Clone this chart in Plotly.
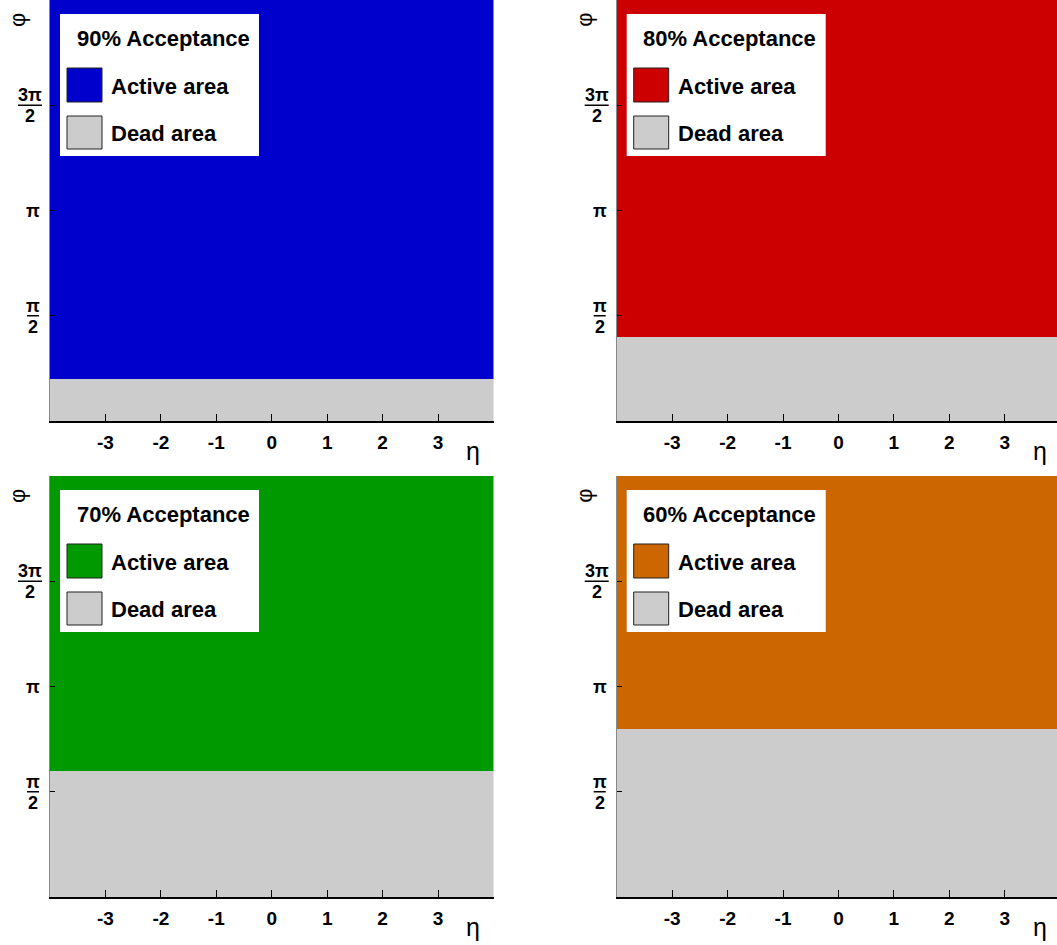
import math
import plotly.graph_objects as go

# Acceptance scenarios: fraction of the phi range that is instrumented
acceptances = [0.90, 0.80, 0.70, 0.60]
titles = ["90% Acceptance", "80% Acceptance", "70% Acceptance", "60% Acceptance"]
active_colors = ["#0000CC", "#CC0000", "#009900", "#CC6600"]
dead_color = "#CCCCCC"

eta_ticks = [-3, -2, -1, 0, 1, 2, 3]
eta_labels = ["-3", "-2", "-1", "0", "1", "2", "3"]
phi_ticks = [math.pi / 2, math.pi, 3 * math.pi / 2]
phi_numerators = ["π", "π", "3π"]
phi_denominators = ["2", "", "2"]
phi_max = 2 * math.pi
eta_min, eta_max = -4.0, 4.0

W, H = 1057, 945
FONT = "Liberation Sans, Arial, sans-serif"

# pixel layout of the four panels: (left, right, top, bottom)
left_x0, left_x1 = 50.0, 493.5
right_x0 = 616.7
top_y0, top_y1 = 0.0, 421.0
bot_y0, bot_y1 = 476.0, 897.0
px_per_eta = (left_x1 - left_x0) / (eta_max - eta_min)

panels = [
    (left_x0, left_x1, top_y0, top_y1),
    (right_x0, W, top_y0, top_y1),
    (left_x0, left_x1, bot_y0, bot_y1),
    (right_x0, W, bot_y0, bot_y1),
]

fig = go.Figure()
layout = {}
annotations = []
shapes = []

for i, (acc, title, color, (px0, px1, py0, py1)) in enumerate(
        zip(acceptances, titles, active_colors, panels)):
    n = "" if i == 0 else str(i + 1)
    xa, ya = "x" + n, "y" + n
    dead_top = (1 - acc) * phi_max

    # dead region (bottom) and active region (top), spanning the full eta range
    fig.add_trace(go.Bar(
        x=[0], y=[dead_top], base=[0], width=[eta_max - eta_min],
        marker=dict(color=dead_color, line=dict(width=0)),
        xaxis=xa, yaxis=ya, showlegend=False, hoverinfo="skip"))
    fig.add_trace(go.Bar(
        x=[0], y=[phi_max - dead_top], base=[dead_top], width=[eta_max - eta_min],
        marker=dict(color=color, line=dict(width=0)),
        xaxis=xa, yaxis=ya, showlegend=False, hoverinfo="skip"))

    x_hi = eta_min + (px1 - px0) / px_per_eta
    layout["xaxis" + n] = dict(
        domain=[px0 / W, px1 / W], anchor=ya, range=[eta_min, x_hi],
        showgrid=False, zeroline=False, showline=True, linecolor="black",
        linewidth=1.5, ticks="inside", ticklen=7, tickwidth=1, tickcolor="black",
        tickvals=eta_ticks, ticktext=["<b>%s</b>" % t for t in eta_labels],
        tickfont=dict(family=FONT, size=19, color="black"),
        ticklabelstandoff=3, fixedrange=True)
    layout["yaxis" + n] = dict(
        domain=[(H - py1) / H, (H - py0) / H], anchor=xa, range=[0, phi_max],
        showgrid=False, zeroline=False, showline=True, linecolor="#888888",
        linewidth=1, ticks="inside", ticklen=5, tickwidth=1, tickcolor="black",
        tickvals=phi_ticks, showticklabels=False, fixedrange=True)

    # phi tick labels as stacked fractions
    for val, num, den in zip(phi_ticks, phi_numerators, phi_denominators):
        xs = -20 if num == "3π" else -17
        if den:
            annotations.append(dict(
                xref=xa + " domain", x=0, xshift=xs, yref=ya, y=val, yshift=10,
                text="<b>%s</b>" % num, showarrow=False, xanchor="center",
                yanchor="middle", font=dict(family=FONT, size=18, color="black")))
            annotations.append(dict(
                xref=xa + " domain", x=0, xshift=xs, yref=ya, y=val, yshift=-11,
                text="<b>%s</b>" % den, showarrow=False, xanchor="center",
                yanchor="middle", font=dict(family=FONT, size=18, color="black")))
            half = 12 if num == "3π" else 6
            shapes.append(dict(
                type="line", xref=xa + " domain", xsizemode="pixel", xanchor=0,
                x0=xs - half, x1=xs + half, yref=ya, y0=val, y1=val,
                line=dict(color="black", width=1.5)))
        else:
            annotations.append(dict(
                xref=xa + " domain", x=0, xshift=xs, yref=ya, y=val,
                text="<b>%s</b>" % num, showarrow=False, xanchor="center",
                yanchor="middle", font=dict(family=FONT, size=18, color="black")))

    # axis titles
    annotations.append(dict(
        xref=xa + " domain", x=0, xshift=-33, yref=ya + " domain", y=1, yshift=-20,
        text="φ", textangle=-90, showarrow=False, xanchor="center", yanchor="middle",
        font=dict(family=FONT, size=22, color="black")))
    annotations.append(dict(
        xref=xa + " domain", x=0, xshift=423, yref=ya + " domain", y=0, yshift=-30,
        text="η", showarrow=False, xanchor="center", yanchor="middle",
        font=dict(family=FONT, size=25, color="black")))

    # legend box
    shapes.append(dict(
        type="rect", xref=xa + " domain", xsizemode="pixel", xanchor=0, x0=10, x1=209,
        yref=ya + " domain", ysizemode="pixel", yanchor=1, y0=-14, y1=-156,
        fillcolor="white", line=dict(width=0), layer="above"))
    for (yt, yb), fc in zip([(-68, -102), (-116, -149)], [color, dead_color]):
        shapes.append(dict(
            type="rect", xref=xa + " domain", xsizemode="pixel", xanchor=0, x0=17, x1=52,
            yref=ya + " domain", ysizemode="pixel", yanchor=1, y0=yt, y1=yb,
            fillcolor=fc, line=dict(color="#222222", width=1), layer="above"))
    annotations.append(dict(
        xref=xa + " domain", x=0, xshift=113, yref=ya + " domain", y=1, yshift=-38,
        text="<b>%s</b>" % title, showarrow=False, xanchor="center", yanchor="middle",
        font=dict(family=FONT, size=22, color="black")))
    for label, ys in zip(["Active area", "Dead area"], [-86, -133]):
        annotations.append(dict(
            xref=xa + " domain", x=0, xshift=59, yref=ya + " domain", y=1, yshift=ys,
            text="<b>%s</b>" % label, showarrow=False, xanchor="left", yanchor="middle",
            font=dict(family=FONT, size=22, color="black")))

fig.update_layout(
    width=W, height=H, margin=dict(l=0, r=0, t=0, b=0),
    paper_bgcolor="white", plot_bgcolor="white", barmode="overlay", bargap=0,
    annotations=annotations, shapes=shapes, showlegend=False, **layout)

fig.write_html("out.html", config={"displayModeBar": False})
